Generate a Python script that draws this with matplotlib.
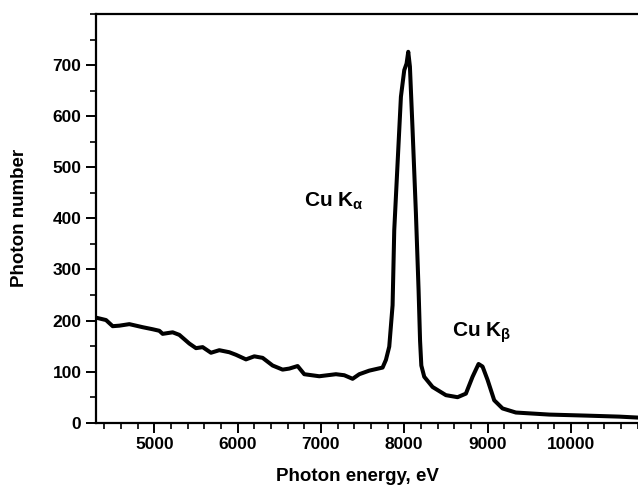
import numpy as np
import matplotlib
matplotlib.use('Agg')
import matplotlib.pyplot as plt
from matplotlib.ticker import MultipleLocator

plt.rcParams['font.family'] = ['Liberation Sans', 'DejaVu Sans']
plt.rcParams['font.weight'] = 'bold'
plt.rcParams['mathtext.fontset'] = 'custom'
plt.rcParams['mathtext.rm'] = 'Liberation Sans'
plt.rcParams['mathtext.it'] = 'Liberation Sans:italic'

# spectrum (eV, photon counts)
energy = [4292, 4420, 4500, 4580, 4700, 4780, 4860, 4980, 5060, 5100, 5220, 5300,
          5420, 5500, 5580, 5680, 5780, 5900, 5980, 6100, 6200, 6300, 6420, 6540,
          6620, 6720, 6800, 6980, 7180, 7280, 7380, 7460, 7580, 7740, 7780, 7820,
          7860, 7880, 7920, 7960, 8000, 8028, 8048, 8068, 8100, 8140, 8172, 8190,
          8205, 8240, 8340, 8500, 8640, 8740, 8820, 8892, 8940, 9000, 9080, 9180,
          9340, 9740, 10180, 10580, 10820]
counts = [206, 201, 189, 190, 193, 190, 187, 183, 180, 174, 177, 172,
          155, 146, 148, 137, 142, 138, 133, 124, 130, 127, 112, 104,
          106, 111, 95, 91, 95, 93, 86, 95, 102, 108, 123, 149,
          230, 377, 508, 638, 690, 703, 726, 697, 573, 410, 260, 160,
          112, 90, 70, 54, 50, 57, 90, 115, 110, 84, 44, 28,
          20, 16, 14, 12, 10]

peak_labels = ['Cu K$_{\\mathregular{\\alpha}}$', 'Cu K$_{\\mathregular{\\beta}}$']
peak_label_x = [6800, 8576]
peak_label_y = [422, 168]

fig = plt.figure(figsize=(6.38, 4.91), dpi=100)
ax = fig.add_axes([0.1505, 0.139, 0.8495, 0.8325])

ax.plot(energy, counts, color='black', linewidth=2.9,
        solid_joinstyle='round', solid_capstyle='round')

for lab, lx, ly in zip(peak_labels, peak_label_x, peak_label_y):
    ax.text(lx, ly, lab, fontsize=15, fontweight='bold', ha='left', va='baseline')

ax.set_xlim(4300, 10806)
ax.set_ylim(0, 800)
ax.xaxis.set_major_locator(MultipleLocator(1000))
ax.xaxis.set_minor_locator(MultipleLocator(200))
ax.yaxis.set_major_locator(MultipleLocator(100))
ax.yaxis.set_minor_locator(MultipleLocator(50))
ax.set_yticks([0, 100, 200, 300, 400, 500, 600, 700])

ax.spines['right'].set_visible(False)
for s in ['left', 'bottom', 'top']:
    ax.spines[s].set_linewidth(1.6)

ax.tick_params(which='major', direction='out', length=7, width=1.4, labelsize=12.5)
ax.tick_params(which='minor', direction='out', length=4, width=1.2)
ax.tick_params(top=False, right=False, which='both')

ax.set_xlabel('Photon energy, eV', fontsize=13.5, fontweight='bold')
ax.set_ylabel('Photon number', fontsize=13.5, fontweight='bold')
ax.xaxis.set_label_coords(0.483, -0.11)
ax.yaxis.set_label_coords(-0.125, 0.5)

fig.savefig('out.png', dpi=100)
